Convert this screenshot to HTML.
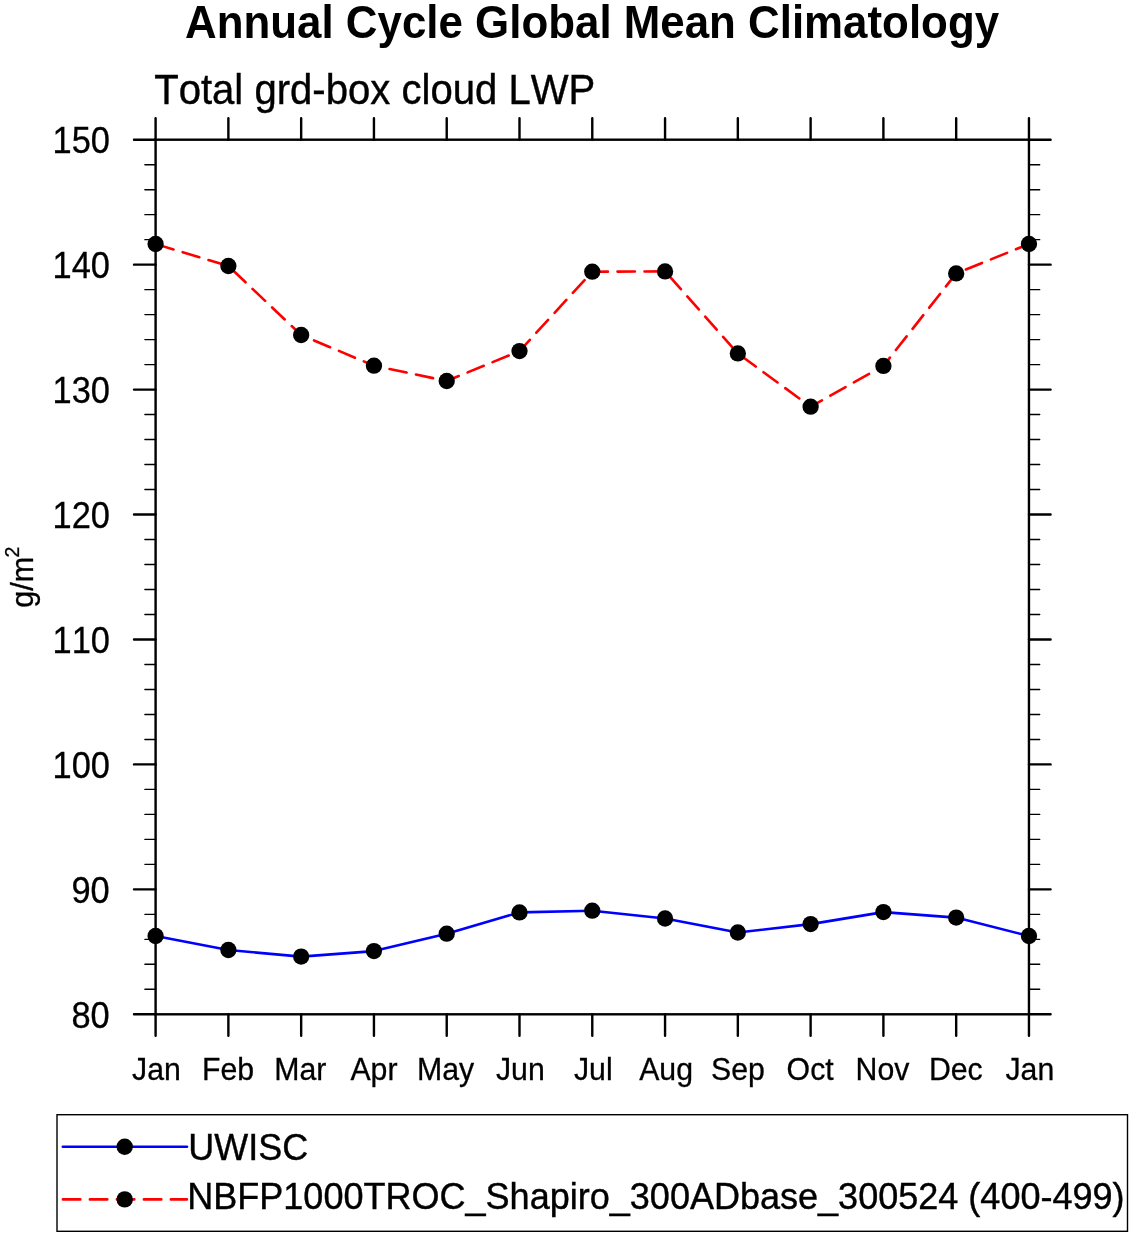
<!DOCTYPE html>
<html><head><meta charset="utf-8"><title>Annual Cycle Global Mean Climatology</title>
<style>html,body{margin:0;padding:0;background:#fff}svg{display:block;will-change:transform}text{font-family:"Liberation Sans",sans-serif;fill:#000;stroke:#000;font-kerning:none}</style></head><body>
<svg width="1134" height="1237" viewBox="0 0 1134 1237">
<rect width="1134" height="1237" fill="#fff"/>
<text x="185.06" y="38.10" font-size="46.6" font-weight="bold" stroke-width="0" textLength="814.02" lengthAdjust="spacingAndGlyphs">Annual Cycle Global Mean Climatology</text>
<text x="154.16" y="103.60" font-size="42.6" stroke-width="0.4" textLength="441.19" lengthAdjust="spacingAndGlyphs">Total grd-box cloud LWP</text>
<text x="188.35" y="1159.50" font-size="36.8" stroke-width="0.4" textLength="119.77" lengthAdjust="spacingAndGlyphs">UWISC</text>
<text x="187.26" y="1208.50" font-size="36.8" stroke-width="0.4" textLength="937.33" lengthAdjust="spacingAndGlyphs">NBFP1000TROC_Shapiro_300ADbase_300524 (400-499)</text>
<text x="71.40" y="1027.51" font-size="36.6" stroke-width="0.3" textLength="38.25" lengthAdjust="spacingAndGlyphs">80</text>
<text x="71.40" y="902.56" font-size="36.6" stroke-width="0.3" textLength="38.25" lengthAdjust="spacingAndGlyphs">90</text>
<text x="52.60" y="777.62" font-size="36.6" stroke-width="0.3" textLength="57.37" lengthAdjust="spacingAndGlyphs">100</text>
<text x="52.60" y="652.68" font-size="36.6" stroke-width="0.3" textLength="57.37" lengthAdjust="spacingAndGlyphs">110</text>
<text x="52.60" y="527.74" font-size="36.6" stroke-width="0.3" textLength="57.37" lengthAdjust="spacingAndGlyphs">120</text>
<text x="52.60" y="402.79" font-size="36.6" stroke-width="0.3" textLength="57.37" lengthAdjust="spacingAndGlyphs">130</text>
<text x="52.60" y="277.85" font-size="36.6" stroke-width="0.3" textLength="57.37" lengthAdjust="spacingAndGlyphs">140</text>
<text x="52.60" y="152.91" font-size="36.6" stroke-width="0.3" textLength="57.37" lengthAdjust="spacingAndGlyphs">150</text>
<text x="132.07" y="1080.10" font-size="32" stroke-width="0.3" textLength="48.76" lengthAdjust="spacingAndGlyphs">Jan</text>
<text x="202.02" y="1080.10" font-size="32" stroke-width="0.3" textLength="52.11" lengthAdjust="spacingAndGlyphs">Feb</text>
<text x="274.33" y="1080.10" font-size="32" stroke-width="0.3" textLength="52.08" lengthAdjust="spacingAndGlyphs">Mar</text>
<text x="350.42" y="1080.10" font-size="32" stroke-width="0.3" textLength="47.06" lengthAdjust="spacingAndGlyphs">Apr</text>
<text x="417.05" y="1080.10" font-size="32" stroke-width="0.3" textLength="57.13" lengthAdjust="spacingAndGlyphs">May</text>
<text x="495.98" y="1080.10" font-size="32" stroke-width="0.3" textLength="48.76" lengthAdjust="spacingAndGlyphs">Jun</text>
<text x="573.95" y="1080.10" font-size="32" stroke-width="0.3" textLength="38.66" lengthAdjust="spacingAndGlyphs">Jul</text>
<text x="639.17" y="1080.10" font-size="32" stroke-width="0.3" textLength="53.81" lengthAdjust="spacingAndGlyphs">Aug</text>
<text x="711.01" y="1080.10" font-size="32" stroke-width="0.3" textLength="53.81" lengthAdjust="spacingAndGlyphs">Sep</text>
<text x="786.62" y="1080.10" font-size="32" stroke-width="0.3" textLength="47.04" lengthAdjust="spacingAndGlyphs">Oct</text>
<text x="855.62" y="1080.10" font-size="32" stroke-width="0.3" textLength="53.78" lengthAdjust="spacingAndGlyphs">Nov</text>
<text x="928.88" y="1080.10" font-size="32" stroke-width="0.3" textLength="53.78" lengthAdjust="spacingAndGlyphs">Dec</text>
<text x="1005.44" y="1080.10" font-size="32" stroke-width="0.3" textLength="48.76" lengthAdjust="spacingAndGlyphs">Jan</text>
<text transform="translate(33.3,607.8) rotate(-90)" font-size="30.6" stroke-width="0.3">g/m<tspan dx="-0.8" dy="-14" font-size="19.5">2</tspan></text>
<g stroke="#000" fill="none" stroke-linecap="round">
<rect x="155.60" y="139.70" width="873.36" height="874.60" stroke-width="2.4"/>
<path d="M155.60 139.70V118.3M155.60 1014.30V1035.8M228.38 139.70V118.3M228.38 1014.30V1035.8M301.16 139.70V118.3M301.16 1014.30V1035.8M373.94 139.70V118.3M373.94 1014.30V1035.8M446.72 139.70V118.3M446.72 1014.30V1035.8M519.50 139.70V118.3M519.50 1014.30V1035.8M592.28 139.70V118.3M592.28 1014.30V1035.8M665.06 139.70V118.3M665.06 1014.30V1035.8M737.84 139.70V118.3M737.84 1014.30V1035.8M810.62 139.70V118.3M810.62 1014.30V1035.8M883.40 139.70V118.3M883.40 1014.30V1035.8M956.18 139.70V118.3M956.18 1014.30V1035.8M1028.96 139.70V118.3M1028.96 1014.30V1035.8" stroke-width="2.4"/>
<path d="M155.60 1014.30H134.0M1028.96 1014.30H1050.6M155.60 889.36H134.0M1028.96 889.36H1050.6M155.60 764.41H134.0M1028.96 764.41H1050.6M155.60 639.47H134.0M1028.96 639.47H1050.6M155.60 514.53H134.0M1028.96 514.53H1050.6M155.60 389.59H134.0M1028.96 389.59H1050.6M155.60 264.64H134.0M1028.96 264.64H1050.6M155.60 139.70H134.0M1028.96 139.70H1050.6" stroke-width="2.4"/>
<path d="M155.60 989.31H144.9M1028.96 989.31H1039.7M155.60 964.32H144.9M1028.96 964.32H1039.7M155.60 939.33H144.9M1028.96 939.33H1039.7M155.60 914.35H144.9M1028.96 914.35H1039.7M155.60 864.37H144.9M1028.96 864.37H1039.7M155.60 839.38H144.9M1028.96 839.38H1039.7M155.60 814.39H144.9M1028.96 814.39H1039.7M155.60 789.40H144.9M1028.96 789.40H1039.7M155.60 739.43H144.9M1028.96 739.43H1039.7M155.60 714.44H144.9M1028.96 714.44H1039.7M155.60 689.45H144.9M1028.96 689.45H1039.7M155.60 664.46H144.9M1028.96 664.46H1039.7M155.60 614.48H144.9M1028.96 614.48H1039.7M155.60 589.49H144.9M1028.96 589.49H1039.7M155.60 564.51H144.9M1028.96 564.51H1039.7M155.60 539.52H144.9M1028.96 539.52H1039.7M155.60 489.54H144.9M1028.96 489.54H1039.7M155.60 464.55H144.9M1028.96 464.55H1039.7M155.60 439.56H144.9M1028.96 439.56H1039.7M155.60 414.57H144.9M1028.96 414.57H1039.7M155.60 364.60H144.9M1028.96 364.60H1039.7M155.60 339.61H144.9M1028.96 339.61H1039.7M155.60 314.62H144.9M1028.96 314.62H1039.7M155.60 289.63H144.9M1028.96 289.63H1039.7M155.60 239.65H144.9M1028.96 239.65H1039.7M155.60 214.67H144.9M1028.96 214.67H1039.7M155.60 189.68H144.9M1028.96 189.68H1039.7M155.60 164.69H144.9M1028.96 164.69H1039.7" stroke-width="1.4"/>
</g>
<polyline points="155.60,936.00 228.38,950.00 301.16,956.60 373.94,951.10 446.72,933.70 519.50,912.40 592.28,910.70 665.06,918.50 737.84,932.50 810.62,924.10 883.40,912.10 956.18,917.60 1028.96,936.00" fill="none" stroke="#0000ff" stroke-width="2.6" stroke-linejoin="round"/>
<polyline points="155.60,244.00 228.38,266.00 301.16,335.00 373.94,365.70 446.72,381.00 519.50,351.10 592.28,271.70 665.06,271.40 737.84,353.40 810.62,406.70 883.40,365.90 956.18,273.40 1028.96,244.00" fill="none" stroke="#ff0000" stroke-width="2.6" stroke-dasharray="17.4 9.6" stroke-dashoffset="-1.3" stroke-linecap="round" stroke-linejoin="round"/>
<g fill="#000">
<circle cx="155.60" cy="244.00" r="8.15"/>
<circle cx="228.38" cy="266.00" r="8.15"/>
<circle cx="301.16" cy="335.00" r="8.15"/>
<circle cx="373.94" cy="365.70" r="8.15"/>
<circle cx="446.72" cy="381.00" r="8.15"/>
<circle cx="519.50" cy="351.10" r="8.15"/>
<circle cx="592.28" cy="271.70" r="8.15"/>
<circle cx="665.06" cy="271.40" r="8.15"/>
<circle cx="737.84" cy="353.40" r="8.15"/>
<circle cx="810.62" cy="406.70" r="8.15"/>
<circle cx="883.40" cy="365.90" r="8.15"/>
<circle cx="956.18" cy="273.40" r="8.15"/>
<circle cx="1028.96" cy="244.00" r="8.15"/>
<circle cx="155.60" cy="936.00" r="8.15"/>
<circle cx="228.38" cy="950.00" r="8.15"/>
<circle cx="301.16" cy="956.60" r="8.15"/>
<circle cx="373.94" cy="951.10" r="8.15"/>
<circle cx="446.72" cy="933.70" r="8.15"/>
<circle cx="519.50" cy="912.40" r="8.15"/>
<circle cx="592.28" cy="910.70" r="8.15"/>
<circle cx="665.06" cy="918.50" r="8.15"/>
<circle cx="737.84" cy="932.50" r="8.15"/>
<circle cx="810.62" cy="924.10" r="8.15"/>
<circle cx="883.40" cy="912.10" r="8.15"/>
<circle cx="956.18" cy="917.60" r="8.15"/>
<circle cx="1028.96" cy="936.00" r="8.15"/>
</g>
<rect x="57.0" y="1114.7" width="1070.5" height="116.6" fill="none" stroke="#000" stroke-width="1.4"/>
<path d="M62.8 1146.8H187" stroke="#0000ff" stroke-width="2.6" stroke-linecap="round"/>
<path d="M61.6 1199.4H186.9" stroke="#ff0000" stroke-width="2.6" stroke-dasharray="17.4 9.6" stroke-dashoffset="-1.3" stroke-linecap="round"/>
<circle cx="124.7" cy="1146.8" r="8.2"/><circle cx="124.7" cy="1199.4" r="8.2"/>
</svg></body></html>
